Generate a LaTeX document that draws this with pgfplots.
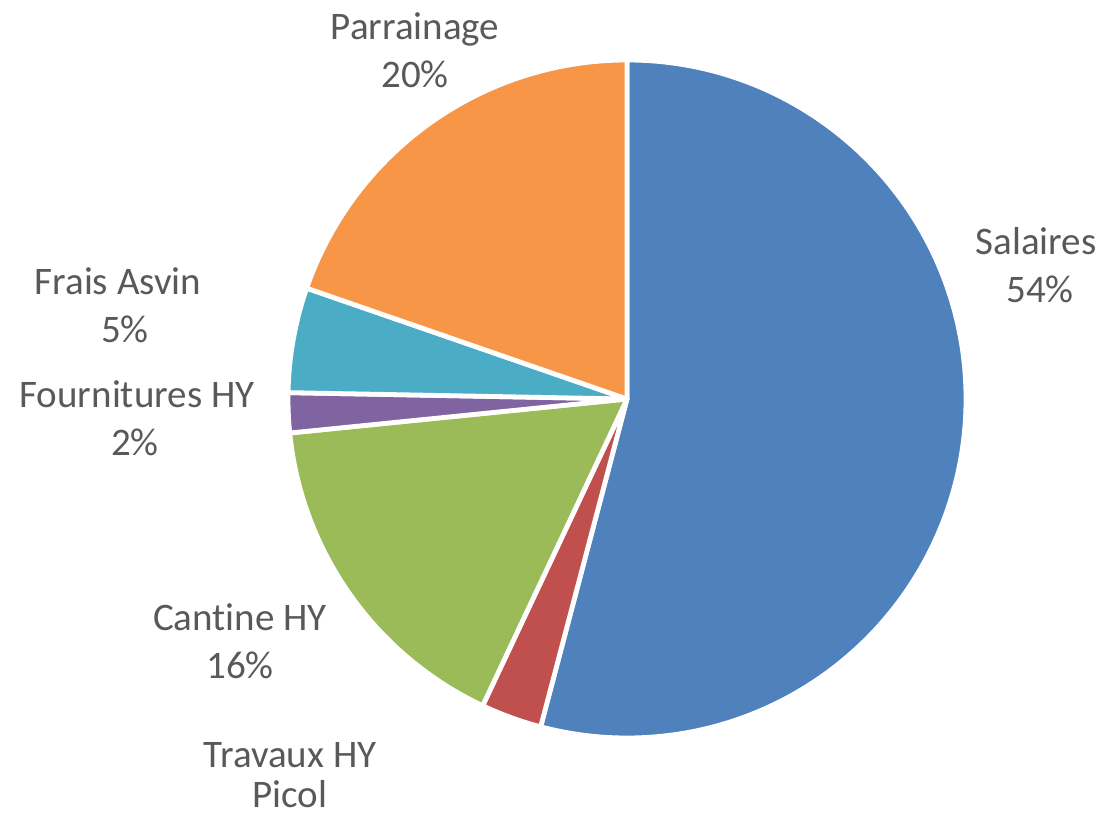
\documentclass[border=0pt]{standalone}
\usepackage{pgfplots}
\pgfplotsset{compat=1.18}
\usepackage{fontspec}
\setmainfont{Carlito}[Ligatures=NoCommon]
\definecolor{cSal}{HTML}{4F81BD}
\definecolor{cTra}{HTML}{C0504D}
\definecolor{cCan}{HTML}{9BBB59}
\definecolor{cFou}{HTML}{8064A2}
\definecolor{cFra}{HTML}{4BACC6}
\definecolor{cPar}{HTML}{F79646}
\definecolor{lab}{HTML}{595959}
% shares in percent
\def\vSal{54.1}
\def\vTra{2.9}
\def\vCan{16.4}
\def\vFou{1.9}
\def\vFra{5.0}
\def\vPar{19.7}
\pgfmathsetmacro{\aA}{90}
\pgfmathsetmacro{\aB}{\aA-3.6*\vSal}
\pgfmathsetmacro{\aC}{\aB-3.6*\vTra}
\pgfmathsetmacro{\aD}{\aC-3.6*\vCan}
\pgfmathsetmacro{\aE}{\aD-3.6*\vFou}
\pgfmathsetmacro{\aF}{\aE-3.6*\vFra}
\pgfmathsetmacro{\aG}{\aF-3.6*\vPar}
\def\R{169.5pt}
\newcommand{\slice}[3]{%
  \filldraw[fill=#3, draw=white, line width=2.4pt, line join=round]
    (axis cs:627,421) -- ++(#1:\R) arc[start angle=#1, end angle=#2, radius=\R] -- cycle;}
\begin{document}
\begin{tikzpicture}
\begin{axis}[hide axis, scale only axis, width=556pt, height=410pt,
  xmin=0, xmax=1112, ymin=0, ymax=820, clip=false]
\path (axis cs:0,0) rectangle (axis cs:1112,820);
\slice{\aA}{\aB}{cSal}
\slice{\aB}{\aC}{cTra}
\slice{\aC}{\aD}{cCan}
\slice{\aD}{\aE}{cFou}
\slice{\aE}{\aF}{cFra}
\slice{\aF}{\aG}{cPar}
\begin{scope}[every node/.style={text=lab, font=\fontsize{19.5}{23}\selectfont, anchor=base, inner sep=0pt}]
\node at (axis cs:415,780) {Parrainage};
\node at (axis cs:415,732) {20\%};
\node at (axis cs:1036,565) {Salaires};
\node at (axis cs:1040,517) {54\%};
\node at (axis cs:118,525) {Frais Asvin};
\node at (axis cs:125,477) {5\%};
\node at (axis cs:137,413) {Fournitures HY};
\node at (axis cs:135,365) {2\%};
\node at (axis cs:240,190) {Cantine HY};
\node at (axis cs:240,142) {16\%};
\node at (axis cs:290,53) {Travaux HY};
\node at (axis cs:290,13) {Picol};
\end{scope}
\end{axis}
\end{tikzpicture}
\end{document}
